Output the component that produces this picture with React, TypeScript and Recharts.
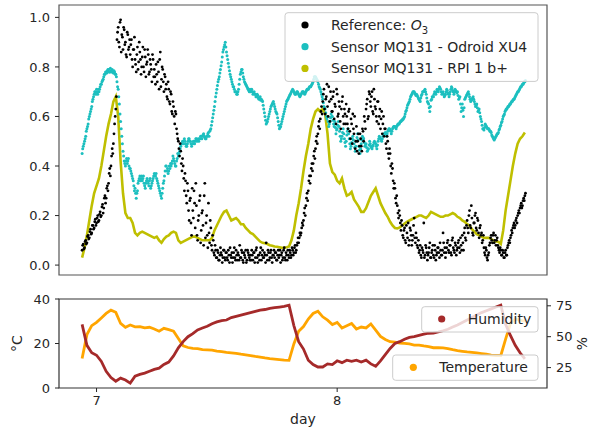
import { ComposedChart, Scatter, Line, XAxis, YAxis, ReferenceArea } from 'recharts'

// all logs start at day 6.94. The O3 analyser and the Odroid sensor report
// two readings per 0.005-day slot (the "B" reading half a slot later),
// the RPI sensor every 0.01 day and the climate probe every 0.02 day
const START_DAY = 6.94
const HALF_SLOT = 0.0025

const o3A = [
  0.06, 0.085, 0.07, 0.10, 0.09, 0.12, 0.11, 0.145, 0.13, 0.16, 0.15, 0.185, 0.17, 0.20, 0.18, 0.215, 0.20, 0.245, 0.23, 0.28,
  0.27, 0.32, 0.33, 0.39, 0.40, 0.47, 0.49, 0.57, 0.63, 0.91, 0.96, 0.88, 0.99, 0.93, 0.87, 0.95, 0.90, 0.84, 0.93, 0.88,
  0.85, 0.91, 0.80, 0.87, 0.83, 0.78, 0.88, 0.82, 0.86, 0.77, 0.84, 0.80, 0.87, 0.76, 0.82, 0.85, 0.78, 0.81, 0.74, 0.83,
  0.79, 0.73, 0.77, 0.82, 0.71, 0.86, 0.75, 0.79, 0.70, 0.76, 0.73, 0.67, 0.71, 0.65, 0.69, 0.61, 0.64, 0.57, 0.61, 0.53,
  0.50, 0.44, 0.46, 0.38, 0.40, 0.30, 0.34, 0.25, 0.30, 0.18, 0.27, 0.12, 0.22, 0.30, 0.15, 0.24, 0.10, 0.20, 0.28, 0.14,
  0.22, 0.08, 0.33, 0.17, 0.12, 0.25, 0.09, 0.15, 0.06, 0.10, 0.04, 0.06, 0.03, 0.05, 0.02, 0.07, 0.04, 0.03, 0.06, 0.02,
  0.05, 0.02, 0.04, 0.07, 0.03, 0.01, 0.05, 0.03, 0.06, 0.02, 0.04, 0.08, 0.03, 0.05, 0.01, 0.04, 0.06, 0.02, 0.05, 0.03,
  0.04, 0.06, 0.02, 0.05, 0.03, 0.07, 0.01, 0.04, 0.05, 0.02, 0.06, 0.03, 0.04, 0.09, 0.02, 0.05, 0.03, 0.06, 0.01, 0.04,
  0.03, 0.05, 0.02, 0.06, 0.04, 0.01, 0.05, 0.03, 0.07, 0.02, 0.04, 0.06, 0.03, 0.05, 0.04, 0.06, 0.05, 0.08, 0.06, 0.09,
  0.09, 0.13, 0.13, 0.17, 0.18, 0.23, 0.24, 0.29, 0.30, 0.36, 0.36, 0.41, 0.41, 0.46, 0.47, 0.52, 0.53, 0.58, 0.59, 0.64,
  0.66, 0.71, 0.61, 0.68, 0.64, 0.72, 0.58, 0.67, 0.62, 0.70, 0.65, 0.57, 0.69, 0.61, 0.64, 0.55, 0.66, 0.60, 0.63, 0.57,
  0.60, 0.55, 0.63, 0.51, 0.57, 0.61, 0.53, 0.47, 0.56, 0.50, 0.45, 0.53, 0.48, 0.55, 0.50, 0.58, 0.63, 0.67, 0.60, 0.69,
  0.64, 0.70, 0.61, 0.67, 0.63, 0.58, 0.66, 0.60, 0.55, 0.62, 0.57, 0.52, 0.55, 0.47, 0.50, 0.43, 0.45, 0.37, 0.39, 0.31,
  0.31, 0.25, 0.24, 0.19, 0.20, 0.14, 0.16, 0.11, 0.15, 0.09, 0.13, 0.17, 0.10, 0.14, 0.08, 0.12, 0.19, 0.09, 0.11, 0.07,
  0.05, 0.08, 0.03, 0.06, 0.17, 0.04, 0.07, 0.02, 0.05, 0.09, 0.03, 0.06, 0.04, 0.08, 0.02, 0.05, 0.07, 0.03, 0.06, 0.04,
  0.13, 0.05, 0.03, 0.07, 0.10, 0.05, 0.08, 0.04, 0.11, 0.06, 0.09, 0.04, 0.07, 0.10, 0.05, 0.08, 0.12, 0.06, 0.15, 0.10,
  0.18, 0.13, 0.22, 0.15, 0.19, 0.12, 0.17, 0.21, 0.14, 0.18, 0.11, 0.16, 0.13, 0.10, 0.07, 0.04, 0.06, 0.02, 0.05, 0.09,
  0.12, 0.09, 0.13, 0.10, 0.08, 0.11, 0.07, 0.05, 0.06, 0.04, 0.05, 0.03, 0.06, 0.04, 0.08, 0.10, 0.11, 0.14, 0.15, 0.17,
  0.16, 0.19, 0.20, 0.22, 0.23, 0.25, 0.24, 0.27, 0.28,
]

const o3B = [
  0.08, 0.065, 0.095, 0.085, 0.115, 0.105, 0.135, 0.125, 0.16, 0.145, 0.175, 0.16, 0.19, 0.175, 0.205, 0.195, 0.235, 0.21, 0.27, 0.25,
  0.31, 0.30, 0.37, 0.36, 0.44, 0.45, 0.53, 0.60, 0.68, 0.94, 0.90, 0.98, 0.86, 0.92, 0.96, 0.89, 0.85, 0.94, 0.87, 0.91,
  0.89, 0.83, 0.87, 0.92, 0.81, 0.85, 0.79, 0.90, 0.83, 0.80, 0.88, 0.78, 0.84, 0.81, 0.87, 0.77, 0.83, 0.79, 0.85, 0.76,
  0.76, 0.81, 0.74, 0.78, 0.83, 0.72, 0.80, 0.74, 0.77, 0.71, 0.68, 0.74, 0.66, 0.70, 0.62, 0.66, 0.60, 0.62, 0.55, 0.51,
  0.47, 0.49, 0.41, 0.43, 0.35, 0.37, 0.28, 0.33, 0.22, 0.26, 0.17, 0.31, 0.19, 0.25, 0.33, 0.12, 0.18, 0.26, 0.09, 0.21,
  0.16, 0.28, 0.11, 0.20, 0.07, 0.13, 0.18, 0.08, 0.12, 0.05, 0.08, 0.03, 0.06, 0.02, 0.04, 0.05, 0.01, 0.06, 0.03, 0.05,
  0.03, 0.06, 0.01, 0.04, 0.05, 0.03, 0.07, 0.02, 0.04, 0.05, 0.02, 0.03, 0.06, 0.02, 0.05, 0.03, 0.01, 0.06, 0.04, 0.02,
  0.02, 0.04, 0.05, 0.01, 0.06, 0.03, 0.04, 0.02, 0.07, 0.04, 0.03, 0.05, 0.01, 0.04, 0.06, 0.02, 0.05, 0.03, 0.04, 0.06,
  0.05, 0.02, 0.04, 0.03, 0.06, 0.04, 0.02, 0.06, 0.03, 0.05, 0.02, 0.04, 0.06, 0.03, 0.07, 0.04, 0.07, 0.05, 0.08, 0.11,
  0.11, 0.12, 0.15, 0.16, 0.21, 0.20, 0.27, 0.26, 0.34, 0.33, 0.39, 0.38, 0.44, 0.43, 0.50, 0.49, 0.56, 0.55, 0.62, 0.61,
  0.69, 0.63, 0.67, 0.73, 0.60, 0.66, 0.70, 0.62, 0.68, 0.59, 0.64, 0.71, 0.60, 0.66, 0.58, 0.63, 0.68, 0.57, 0.61, 0.65,
  0.57, 0.62, 0.54, 0.59, 0.49, 0.55, 0.60, 0.50, 0.46, 0.53, 0.48, 0.51, 0.46, 0.54, 0.60, 0.55, 0.65, 0.59, 0.70, 0.66,
  0.68, 0.62, 0.71, 0.64, 0.60, 0.66, 0.57, 0.63, 0.59, 0.53, 0.60, 0.55, 0.49, 0.52, 0.45, 0.47, 0.40, 0.41, 0.34, 0.33,
  0.27, 0.28, 0.21, 0.22, 0.17, 0.18, 0.12, 0.14, 0.10, 0.16, 0.11, 0.08, 0.15, 0.12, 0.10, 0.16, 0.11, 0.13, 0.08, 0.10,
  0.06, 0.04, 0.07, 0.05, 0.03, 0.08, 0.05, 0.04, 0.07, 0.03, 0.05, 0.08, 0.03, 0.06, 0.04, 0.07, 0.05, 0.09, 0.04, 0.06,
  0.09, 0.07, 0.05, 0.09, 0.06, 0.08, 0.05, 0.10, 0.07, 0.05, 0.08, 0.06, 0.09, 0.07, 0.11, 0.06, 0.09, 0.13, 0.11, 0.16,
  0.15, 0.20, 0.16, 0.24, 0.13, 0.17, 0.20, 0.15, 0.19, 0.13, 0.15, 0.12, 0.09, 0.12, 0.05, 0.07, 0.03, 0.04, 0.08, 0.11,
  0.10, 0.12, 0.09, 0.12, 0.10, 0.08, 0.06, 0.07, 0.04, 0.06, 0.03, 0.05, 0.04, 0.07, 0.09, 0.09, 0.12, 0.13, 0.16, 0.15,
  0.18, 0.17, 0.21, 0.21, 0.24, 0.23, 0.26, 0.26, 0.29,
]

const odroidA = [
  0.45, 0.48, 0.50, 0.52, 0.55, 0.57, 0.60, 0.62, 0.64, 0.67, 0.69, 0.70, 0.71, 0.69, 0.70, 0.72, 0.73, 0.745, 0.76, 0.77,
  0.78, 0.785, 0.79, 0.78, 0.785, 0.79, 0.775, 0.78, 0.77, 0.74, 0.71, 0.65, 0.58, 0.52, 0.46, 0.42, 0.40, 0.43, 0.42, 0.40,
  0.39, 0.37, 0.35, 0.32, 0.31, 0.27, 0.30, 0.34, 0.36, 0.35, 0.34, 0.36, 0.32, 0.33, 0.35, 0.33, 0.34, 0.31, 0.33, 0.35,
  0.37, 0.36, 0.35, 0.33, 0.31, 0.29, 0.27, 0.31, 0.34, 0.38, 0.40, 0.39, 0.38, 0.39, 0.40, 0.42, 0.43, 0.41, 0.40, 0.43,
  0.44, 0.46, 0.48, 0.49, 0.50, 0.51, 0.49, 0.48, 0.50, 0.51, 0.50, 0.48, 0.49, 0.50, 0.50, 0.51, 0.505, 0.50, 0.51, 0.52,
  0.52, 0.53, 0.515, 0.51, 0.52, 0.535, 0.54, 0.55, 0.58, 0.61, 0.64, 0.68, 0.71, 0.74, 0.76, 0.79, 0.82, 0.86, 0.88, 0.90,
  0.86, 0.83, 0.80, 0.77, 0.75, 0.73, 0.72, 0.70, 0.70, 0.69, 0.71, 0.75, 0.78, 0.79, 0.76, 0.74, 0.73, 0.72, 0.71, 0.70,
  0.70, 0.71, 0.69, 0.70, 0.69, 0.68, 0.685, 0.67, 0.68, 0.67, 0.66, 0.63, 0.60, 0.57, 0.58, 0.60, 0.62, 0.64, 0.65, 0.66,
  0.64, 0.62, 0.61, 0.58, 0.55, 0.56, 0.58, 0.60, 0.62, 0.64, 0.66, 0.67, 0.68, 0.69, 0.70, 0.71, 0.70, 0.69, 0.695, 0.70,
  0.69, 0.68, 0.69, 0.70, 0.70, 0.69, 0.70, 0.71, 0.71, 0.72, 0.72, 0.73, 0.74, 0.76, 0.76, 0.75, 0.74, 0.72, 0.71, 0.69,
  0.67, 0.64, 0.63, 0.60, 0.60, 0.56, 0.58, 0.61, 0.60, 0.57, 0.58, 0.53, 0.55, 0.58, 0.54, 0.50, 0.52, 0.55, 0.51, 0.48,
  0.525, 0.55, 0.51, 0.47, 0.495, 0.52, 0.49, 0.46, 0.50, 0.53, 0.48, 0.45, 0.49, 0.52, 0.51, 0.48, 0.49, 0.46, 0.47, 0.50,
  0.48, 0.47, 0.485, 0.50, 0.49, 0.47, 0.50, 0.52, 0.51, 0.50, 0.52, 0.53, 0.535, 0.52, 0.54, 0.55, 0.545, 0.53, 0.55, 0.56,
  0.56, 0.55, 0.565, 0.57, 0.575, 0.58, 0.585, 0.59, 0.60, 0.62, 0.635, 0.65, 0.66, 0.68, 0.69, 0.70, 0.70, 0.69, 0.69, 0.68,
  0.67, 0.66, 0.685, 0.70, 0.70, 0.71, 0.69, 0.66, 0.65, 0.62, 0.665, 0.68, 0.68, 0.70, 0.69, 0.71, 0.70, 0.72, 0.71, 0.69,
  0.70, 0.68, 0.69, 0.71, 0.695, 0.68, 0.70, 0.72, 0.705, 0.69, 0.71, 0.70, 0.70, 0.67, 0.68, 0.62, 0.65, 0.60, 0.67, 0.68,
  0.69, 0.70, 0.68, 0.66, 0.67, 0.68, 0.66, 0.64, 0.65, 0.62, 0.63, 0.60, 0.58, 0.55, 0.545, 0.57, 0.56, 0.55, 0.55, 0.54,
  0.535, 0.52, 0.51, 0.51, 0.52, 0.53, 0.535, 0.55, 0.565, 0.58, 0.60, 0.61, 0.625, 0.63, 0.64, 0.645, 0.65, 0.66, 0.665, 0.67,
  0.68, 0.69, 0.70, 0.705, 0.715, 0.72, 0.73, 0.735, 0.74,
]

const odroidB = [
  0.47, 0.49, 0.51, 0.54, 0.56, 0.59, 0.61, 0.63, 0.66, 0.68, 0.70, 0.69, 0.70, 0.71, 0.71, 0.73, 0.74, 0.75, 0.77, 0.78,
  0.775, 0.79, 0.78, 0.795, 0.78, 0.78, 0.785, 0.77, 0.76, 0.72, 0.68, 0.61, 0.55, 0.49, 0.44, 0.41, 0.42, 0.41, 0.43, 0.39,
  0.38, 0.36, 0.34, 0.30, 0.29, 0.29, 0.33, 0.35, 0.34, 0.36, 0.35, 0.33, 0.31, 0.34, 0.34, 0.32, 0.35, 0.32, 0.34, 0.36,
  0.36, 0.37, 0.34, 0.32, 0.30, 0.28, 0.29, 0.33, 0.36, 0.40, 0.38, 0.37, 0.40, 0.41, 0.41, 0.44, 0.42, 0.40, 0.42, 0.45,
  0.45, 0.47, 0.49, 0.50, 0.49, 0.50, 0.48, 0.49, 0.51, 0.50, 0.49, 0.49, 0.50, 0.49, 0.51, 0.50, 0.51, 0.51, 0.52, 0.51,
  0.525, 0.52, 0.51, 0.52, 0.53, 0.52, 0.545, 0.565, 0.595, 0.625, 0.66, 0.695, 0.725, 0.75, 0.775, 0.805, 0.84, 0.87, 0.89, 0.88,
  0.845, 0.815, 0.785, 0.76, 0.74, 0.72, 0.71, 0.70, 0.69, 0.70, 0.73, 0.77, 0.79, 0.775, 0.75, 0.735, 0.725, 0.715, 0.705, 0.71,
  0.705, 0.70, 0.695, 0.69, 0.68, 0.69, 0.675, 0.675, 0.665, 0.665, 0.645, 0.615, 0.585, 0.575, 0.59, 0.61, 0.63, 0.645, 0.655, 0.65,
  0.63, 0.615, 0.595, 0.565, 0.555, 0.57, 0.59, 0.61, 0.63, 0.65, 0.665, 0.675, 0.685, 0.695, 0.705, 0.705, 0.695, 0.69, 0.70, 0.695,
  0.685, 0.685, 0.695, 0.70, 0.695, 0.695, 0.705, 0.71, 0.715, 0.72, 0.725, 0.735, 0.75, 0.76, 0.755, 0.745, 0.73, 0.715, 0.70, 0.68,
  0.655, 0.635, 0.615, 0.59, 0.58, 0.57, 0.595, 0.60, 0.585, 0.56, 0.555, 0.545, 0.565, 0.56, 0.52, 0.51, 0.535, 0.53, 0.495, 0.50,
  0.54, 0.53, 0.49, 0.48, 0.51, 0.505, 0.475, 0.48, 0.515, 0.505, 0.465, 0.47, 0.505, 0.515, 0.495, 0.485, 0.475, 0.465, 0.485, 0.49,
  0.475, 0.48, 0.495, 0.495, 0.48, 0.485, 0.51, 0.515, 0.505, 0.51, 0.525, 0.53, 0.53, 0.53, 0.545, 0.55, 0.54, 0.54, 0.555, 0.56,
  0.555, 0.56, 0.57, 0.57, 0.58, 0.585, 0.59, 0.595, 0.61, 0.625, 0.645, 0.655, 0.67, 0.685, 0.695, 0.70, 0.695, 0.685, 0.685, 0.675,
  0.665, 0.675, 0.69, 0.70, 0.705, 0.70, 0.675, 0.655, 0.635, 0.64, 0.67, 0.68, 0.69, 0.695, 0.70, 0.705, 0.71, 0.715, 0.70, 0.695,
  0.69, 0.685, 0.70, 0.705, 0.69, 0.69, 0.71, 0.715, 0.70, 0.70, 0.705, 0.695, 0.685, 0.675, 0.65, 0.635, 0.625, 0.635, 0.675, 0.685,
  0.695, 0.69, 0.67, 0.665, 0.675, 0.67, 0.65, 0.645, 0.635, 0.625, 0.615, 0.59, 0.565, 0.55, 0.555, 0.565, 0.555, 0.55, 0.545, 0.54,
  0.525, 0.515, 0.505, 0.515, 0.525, 0.53, 0.545, 0.56, 0.575, 0.59, 0.605, 0.62, 0.63, 0.635, 0.64, 0.65, 0.655, 0.66, 0.67, 0.675,
  0.685, 0.695, 0.70, 0.71, 0.72, 0.725, 0.73, 0.74, 0.745,
]

const rpi = [
  0.03, 0.07, 0.12, 0.18, 0.24, 0.29, 0.32, 0.35, 0.40, 0.46,
  0.52, 0.57, 0.61, 0.66, 0.68, 0.60, 0.42, 0.29, 0.21, 0.19,
  0.19, 0.17, 0.13, 0.12, 0.13, 0.135, 0.13, 0.125, 0.12, 0.115,
  0.11, 0.115, 0.10, 0.09, 0.105, 0.115, 0.12, 0.13, 0.135, 0.13,
  0.10, 0.09, 0.095, 0.10, 0.105, 0.11, 0.115, 0.115, 0.11, 0.105,
  0.10, 0.10, 0.10, 0.10, 0.11, 0.14, 0.16, 0.18, 0.20, 0.215,
  0.22, 0.20, 0.18, 0.185, 0.19, 0.18, 0.165, 0.165, 0.15, 0.14,
  0.13, 0.125, 0.115, 0.105, 0.095, 0.09, 0.088, 0.085, 0.08, 0.078,
  0.075, 0.074, 0.072, 0.07, 0.07, 0.072, 0.075, 0.10, 0.14, 0.20,
  0.25, 0.31, 0.38, 0.44, 0.49, 0.55, 0.59, 0.62, 0.63, 0.62,
  0.63, 0.61, 0.53, 0.41, 0.375, 0.365, 0.34, 0.33, 0.35, 0.31,
  0.28, 0.285, 0.295, 0.265, 0.25, 0.235, 0.215, 0.215, 0.23, 0.255,
  0.28, 0.295, 0.31, 0.28, 0.25, 0.23, 0.21, 0.195, 0.175, 0.16,
  0.15, 0.148, 0.152, 0.16, 0.168, 0.175, 0.18, 0.185, 0.19, 0.195,
  0.20, 0.20, 0.195, 0.19, 0.20, 0.215, 0.21, 0.205, 0.20, 0.195,
  0.195, 0.20, 0.20, 0.205, 0.21, 0.205, 0.195, 0.19, 0.18, 0.175,
  0.165, 0.16, 0.145, 0.135, 0.125, 0.12, 0.115, 0.11, 0.11, 0.11,
  0.105, 0.10, 0.095, 0.094, 0.085, 0.14, 0.22, 0.28, 0.34, 0.40,
  0.45, 0.49, 0.51, 0.52, 0.535,
]

const humidity = [
  60, 43, 37, 35, 30, 22, 17, 14, 16.5, 15,
  12.5, 18, 19.5, 20.5, 22, 23.5, 24.5, 27.5, 29.5, 34.5,
  41, 46, 50, 52.5, 55.5, 57, 58.5, 60.5, 62, 63,
  63.5, 65.5, 66.5, 67.5, 68.5, 69.5, 70.5, 71.5, 72, 73,
  73.5, 74, 74.5, 75.5, 59, 46, 40, 31, 27.5, 25.5,
  25.5, 28, 27.5, 30.5, 29, 31, 30, 31, 29.5, 31,
  28, 26, 30.5, 35.5, 40.5, 44.5, 46, 48, 49.5, 50,
  51, 52, 52.8, 53, 53.8, 54.8, 56, 57.8, 59.5, 61.5,
  63.5, 65.5, 67.5, 69.5, 71, 72.5, 74, 75.5, 60, 51,
  43, 37, 32,
]

const temperature = [
  13.3, 24, 28, 29.5, 31.5, 33.5, 35, 34, 29, 27.3,
  28.3, 27.5, 27.6, 27, 27.3, 26.5, 25.5, 26.8, 26.2, 25.5,
  22.2, 19, 18.2, 17.8, 17.7, 17.2, 17.1, 17, 16.6, 16.3,
  16, 15.8, 15.6, 15.2, 14.9, 14.6, 14.2, 13.9, 13.5, 13.2,
  13, 12.8, 12.5, 12.4, 19.8, 25.5, 27.6, 31, 33.5, 34.5,
  32, 30.5, 28.5, 29.5, 27, 28, 29, 26.5, 27.4, 27,
  28.8, 26, 23.2, 21.8, 20.8, 20.6, 20.2, 20.1, 19.8, 19.3,
  19.3, 18.9, 18.6, 18.1, 18.1, 18, 17.7, 17.2, 16.8, 16.5,
  16.2, 16, 15.8, 15.5, 15.2, 14.8, 14.6, 14.6, 22, 29,
  31, 30.5, 30,
]

const dayTicks = [7, 8]
const gasTicks = [0, 0.2, 0.4, 0.6, 0.8, 1.0]
const tempTicks = [0, 20, 40]
const humTicks = [25, 50, 75]

const DAY_DOMAIN: [number, number] = [6.844, 8.872]
const GAS_DOMAIN: [number, number] = [-0.04, 1.05]
const TEMP_DOMAIN: [number, number] = [0, 40]
const HUM_DOMAIN: [number, number] = [8.5, 80.5]

const C = {
  o3: '#000000',
  odroid: '#1cbfbf',
  rpi: '#bfbf00',
  humidity: '#a52a2a',
  temperature: '#ffa500',
}
const INK = '#262626'
const FRAME = '#555'
const FONT = '"DejaVu Sans", sans-serif'

const toSeries = (values: number[], step: number, start = START_DAY) =>
  values.map((v, i) => ({ t: +(start + i * step).toFixed(4), v }))

const o3PtsA = toSeries(o3A, 0.005)
const o3PtsB = toSeries(o3B, 0.005, START_DAY + HALF_SLOT)
const odroidPtsA = toSeries(odroidA, 0.005)
const odroidPtsB = toSeries(odroidB, 0.005, START_DAY + HALF_SLOT)
const rpiPts = toSeries(rpi, 0.01)
const humPts = toSeries(humidity, 0.02)
const tempPts = toSeries(temperature, 0.02)

const dot = (r: number, fill: string) => (p: any) =>
  <circle cx={p.cx} cy={p.cy} r={r} fill={fill} />

const tickStyle = { fontSize: 13, fill: INK, fontFamily: FONT }

function LegendBox({ x, y, w, rows }: {
  x: number; y: number; w: number
  rows: { color: string; label: React.ReactNode; dx: number }[]
}) {
  const h = rows.length * 21.7 + 3.6
  return (
    <g>
      <rect x={x} y={y} width={w} height={h} rx={3} fill="#fff" fillOpacity={0.8} stroke="#cccccc" />
      {rows.map((r, i) => {
        const cy = y + 12.3 + i * 21.7
        return (
          <g key={i}>
            <circle cx={x + r.dx} cy={cy} r={3.6} fill={r.color} />
            <text x={x + r.dx + 26} y={cy + 5} fontSize={14} fill={INK} fontFamily={FONT}>{r.label}</text>
          </g>
        )
      })}
    </g>
  )
}

export default function App() {
  return (
    <div style={{ position: 'relative', width: 596, height: 430, background: '#fff', fontFamily: FONT }}>
      <style>{'body{margin:0}'}</style>

      <div style={{ position: 'absolute', left: 0, top: 0 }}>
        <ComposedChart width={596} height={280} margin={{ top: 5, right: 49, bottom: 5, left: 9 }}>
          <XAxis type="number" dataKey="t" domain={DAY_DOMAIN} allowDataOverflow hide />
          <YAxis
            type="number" domain={GAS_DOMAIN} ticks={gasTicks} allowDataOverflow width={50}
            axisLine={false} tickSize={4} tickMargin={5} tick={tickStyle} tickLine={{ stroke: INK }}
            tickFormatter={(v: number) => v.toFixed(1)}
          />
          <Scatter data={odroidPtsA} dataKey="v" shape={dot(1.5, C.odroid)} isAnimationActive={false} />
          <Scatter data={odroidPtsB} dataKey="v" shape={dot(1.5, C.odroid)} isAnimationActive={false} />
          <Line data={rpiPts} dataKey="v" type="linear" stroke={C.rpi} strokeWidth={2.6}
            dot={false} activeDot={false} isAnimationActive={false} />
          <Scatter data={o3PtsA} dataKey="v" shape={dot(1.4, C.o3)} isAnimationActive={false} />
          <Scatter data={o3PtsB} dataKey="v" shape={dot(1.4, C.o3)} isAnimationActive={false} />
          <ReferenceArea x1={DAY_DOMAIN[0]} x2={DAY_DOMAIN[1]} y1={GAS_DOMAIN[0]} y2={GAS_DOMAIN[1]}
            fill="none" stroke={FRAME} strokeWidth={1.2} />
        </ComposedChart>
      </div>

      <div style={{ position: 'absolute', left: 0, top: 280 }}>
        <ComposedChart width={596} height={150} margin={{ top: 19, right: 0, bottom: 12, left: 9 }}>
          <XAxis type="number" dataKey="t" domain={DAY_DOMAIN} allowDataOverflow ticks={dayTicks}
            height={30} axisLine={false} tickSize={4} tickMargin={4} tick={tickStyle} tickLine={{ stroke: INK }} />
          <YAxis yAxisId="temp" type="number" domain={TEMP_DOMAIN} ticks={tempTicks} allowDataOverflow width={50}
            axisLine={false} tickSize={4} tickMargin={5} tick={tickStyle} tickLine={{ stroke: INK }} />
          <YAxis yAxisId="hum" orientation="right" type="number" domain={HUM_DOMAIN} ticks={humTicks}
            allowDataOverflow width={49} axisLine={false} tickSize={4} tickMargin={5} tick={tickStyle}
            tickLine={{ stroke: INK }} />
          <Line yAxisId="temp" data={tempPts} dataKey="v" type="linear" stroke={C.temperature} strokeWidth={2.8}
            dot={false} activeDot={false} isAnimationActive={false} />
          <Line yAxisId="hum" data={humPts} dataKey="v" type="linear" stroke={C.humidity} strokeWidth={2.8}
            dot={false} activeDot={false} isAnimationActive={false} />
          <ReferenceArea yAxisId="temp" x1={DAY_DOMAIN[0]} x2={DAY_DOMAIN[1]} y1={TEMP_DOMAIN[0]} y2={TEMP_DOMAIN[1]}
            fill="none" stroke="#333" strokeWidth={1.2} />
        </ComposedChart>
      </div>

      <svg width={596} height={430} style={{ position: 'absolute', left: 0, top: 0, pointerEvents: 'none' }}>
        <LegendBox x={285} y={12.7} w={253} rows={[
          { color: C.o3, dx: 20, label: <>Reference: <tspan fontStyle="italic">O</tspan><tspan dy={4} fontSize={10}>3</tspan></> },
          { color: C.odroid, dx: 20, label: 'Sensor MQ131 - Odroid XU4' },
          { color: C.rpi, dx: 20, label: 'Sensor MQ131 - RPI 1 b+' },
        ]} />
        <LegendBox x={421.7} y={306.7} w={116.3} rows={[
          { color: C.humidity, dx: 20, label: 'Humidity' },
        ]} />
        <LegendBox x={392.7} y={355} w={145.3} rows={[
          { color: C.temperature, dx: 20.6, label: 'Temperature' },
        ]} />
        <text x={303} y={424} textAnchor="middle" fontSize={14} fill={INK} fontFamily={FONT}>day</text>
        <text transform="translate(22 343.5) rotate(-90)" textAnchor="middle" fontSize={14} fill={INK} fontFamily={FONT}>°C</text>
        <text transform="translate(587 343.5) rotate(-90)" textAnchor="middle" fontSize={14} fill={INK} fontFamily={FONT}>%</text>
      </svg>
    </div>
  )
}
